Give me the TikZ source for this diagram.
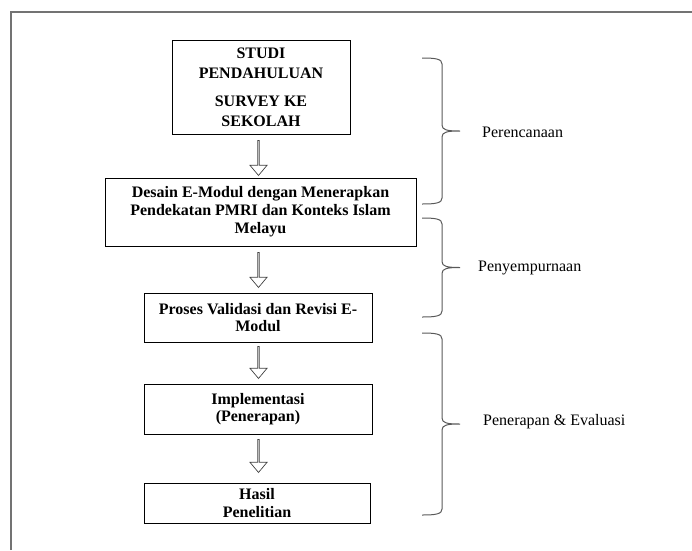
\documentclass[tikz,border=0pt]{standalone}
\usepackage{fontspec}
\setmainfont{Liberation Serif}
\usetikzlibrary{shapes.arrows}
\begin{document}
\begin{tikzpicture}[x=1pt,y=-1pt,
  framestyle/.style={draw=black!55,line width=1.4pt},
  stepbox/.style={draw=black,line width=0.8pt,rectangle,inner sep=0pt,align=center,
    font=\fontsize{16}{17.5}\selectfont\bfseries},
  downarrow/.style={single arrow,draw=black!75,line width=0.7pt,shape border rotate=270,
    minimum width=17pt,single arrow head extend=3.5pt,single arrow tip angle=80,inner sep=0pt},
  bracestyle/.style={draw=black!65,line width=1pt},
  phaselabel/.style={anchor=west,inner sep=0pt,font=\fontsize{16}{18}\selectfont}
]
\useasboundingbox (0,0) rectangle (692,550);
% frame
\draw[framestyle] (11,550) -- (11,12) -- (692,12);

% boxes
\node[stepbox,minimum width=178pt,minimum height=94pt,
  font=\fontsize{16}{20}\selectfont\bfseries] (b1) at (261,87)
  {STUDI\\PENDAHULUAN\\[8pt]SURVEY KE\\SEKOLAH};
\node[stepbox,minimum width=311pt,minimum height=68pt,
  font=\fontsize{16}{18}\selectfont\bfseries] (b2) at (260.5,212)
  {Desain E-Modul dengan Menerapkan\\Pendekatan PMRI dan Konteks Islam\\Melayu};
\node[stepbox,minimum width=228pt,minimum height=49pt] (b3) at (258,317.5)
  {Proses Validasi dan Revisi E-\\Modul};
\node[stepbox,minimum width=228pt,minimum height=50pt] (b4) at (258,409)
  {Implementasi\\(Penerapan)};
\node[stepbox,minimum width=226pt,minimum height=40pt] (b5) at (257,503)
  {Hasil\\Penelitian};

% hollow arrows
\node[downarrow,minimum height=35pt] (a1) at (258.5,157.5) {};
\node[downarrow,minimum height=35pt] (a2) at (258.5,269.5) {};
\node[downarrow,minimum height=32pt] (a3) at (258.5,362) {};
\node[downarrow,minimum height=33pt] (a4) at (258.5,455.5) {};

% braces
\foreach \T/\B in {58/204, 218/317, 333/515}{
  \pgfmathsetmacro\M{(\T+\B)/2}
  \draw[bracestyle] (422,\T) .. controls (436,\T) and (442,{\T+1}) .. (442,{\T+6})
    -- (442,{\M-6}) .. controls (442,{\M-1}) and (447,\M) .. (460,\M)
    .. controls (447,\M) and (442,{\M+1}) .. (442,{\M+6})
    -- (442,{\B-6}) .. controls (442,{\B-1}) and (436,\B) .. (422,\B);
}

% labels
\node[phaselabel] (l1) at (482,132) {Perencanaan};
\node[phaselabel] (l2) at (478,268) {Penyempurnaan};
\node[phaselabel] (l3) at (483,422) {Penerapan \& Evaluasi};
\end{tikzpicture}
\end{document}
